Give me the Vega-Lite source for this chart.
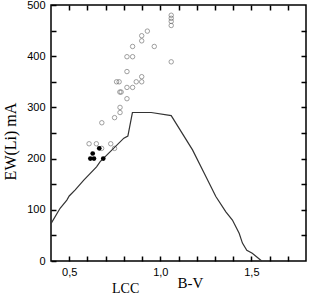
{
  "$schema": "https://vega.github.io/schema/vega-lite/v6.json",
  "width": 255,
  "height": 256,
  "autosize": "none",
  "padding": {"left": 51, "top": 5, "right": 5, "bottom": 34},
  "background": "white",
  "config": {
    "view": {"stroke": "black", "strokeWidth": 1.5},
    "axis": {
      "grid": false,
      "domain": false,
      "ticks": true,
      "zindex": 1,
      "offset": -5,
      "tickColor": "black",
      "tickOpacity": 1,
      "tickSize": 5,
      "tickWidth": 1.5,
      "labelFont": "Liberation Sans",
      "labelFontSize": 11,
      "labelColor": "black",
      "titleFont": "Liberation Serif",
      "titleFontWeight": "normal",
      "titleColor": "black"
    }
  },
  "title": {
    "text": "LCC",
    "orient": "bottom",
    "anchor": "start",
    "frame": "group",
    "font": "Liberation Serif",
    "fontSize": 14,
    "fontWeight": "normal",
    "color": "black",
    "dx": 61,
    "offset": -8
  },
  "datasets": {
    "open": [
      {"bv": 1.06, "ew": 480}, {"bv": 1.06, "ew": 474}, {"bv": 1.06, "ew": 468}, {"bv": 1.06, "ew": 460},
      {"bv": 0.929, "ew": 449}, {"bv": 0.898, "ew": 440}, {"bv": 0.898, "ew": 430},
      {"bv": 0.848, "ew": 419}, {"bv": 0.967, "ew": 419},
      {"bv": 0.817, "ew": 399}, {"bv": 0.848, "ew": 399},
      {"bv": 1.06, "ew": 389},
      {"bv": 0.817, "ew": 370},
      {"bv": 0.898, "ew": 360},
      {"bv": 0.76, "ew": 350}, {"bv": 0.774, "ew": 350}, {"bv": 0.868, "ew": 350}, {"bv": 0.898, "ew": 350},
      {"bv": 0.817, "ew": 339}, {"bv": 0.848, "ew": 339},
      {"bv": 0.778, "ew": 330}, {"bv": 0.785, "ew": 330},
      {"bv": 0.817, "ew": 317},
      {"bv": 0.779, "ew": 300}, {"bv": 0.779, "ew": 290},
      {"bv": 0.749, "ew": 280},
      {"bv": 0.679, "ew": 270},
      {"bv": 0.609, "ew": 229}, {"bv": 0.649, "ew": 229}, {"bv": 0.728, "ew": 229},
      {"bv": 0.678, "ew": 220}, {"bv": 0.749, "ew": 220}
    ],
    "filled": [
      {"bv": 0.665, "ew": 220},
      {"bv": 0.629, "ew": 210},
      {"bv": 0.616, "ew": 200}, {"bv": 0.636, "ew": 200},
      {"bv": 0.687, "ew": 200}
    ],
    "curve": [
      {"bv": 0.40, "ew": 73}, {"bv": 0.45, "ew": 103}, {"bv": 0.487, "ew": 119},
      {"bv": 0.50, "ew": 127}, {"bv": 0.533, "ew": 139}, {"bv": 0.58, "ew": 158},
      {"bv": 0.65, "ew": 184}, {"bv": 0.67, "ew": 194}, {"bv": 0.724, "ew": 213},
      {"bv": 0.80, "ew": 240}, {"bv": 0.822, "ew": 244}, {"bv": 0.847, "ew": 290},
      {"bv": 0.95, "ew": 290}, {"bv": 1.06, "ew": 284}, {"bv": 1.177, "ew": 217},
      {"bv": 1.242, "ew": 171}, {"bv": 1.305, "ew": 126}, {"bv": 1.36, "ew": 96},
      {"bv": 1.396, "ew": 80}, {"bv": 1.433, "ew": 54}, {"bv": 1.451, "ew": 35},
      {"bv": 1.475, "ew": 21}, {"bv": 1.505, "ew": 15}, {"bv": 1.557, "ew": 0}
    ]
  },
  "layer": [
    {
      "data": {"name": "open"},
      "mark": {"type": "point", "shape": "circle", "filled": false, "size": 20, "stroke": "#555555", "strokeWidth": 0.8},
      "encoding": {
        "x": {
          "field": "bv", "type": "quantitative",
          "scale": {"domain": [0.4, 1.8], "nice": false, "zero": false},
          "axis": {
            "orient": "bottom",
            "values": [0.5, 0.6, 0.7, 0.8, 0.9, 1.0, 1.1, 1.2, 1.3, 1.4, 1.5, 1.6, 1.7],
            "labelExpr": "datum.value == 0.5 ? '0,5' : datum.value == 1 ? '1,0' : datum.value == 1.5 ? '1,5' : ''",
            "labelPadding": 5,
            "ticks": true,
            "tickSize": 5,
            "title": "B-V",
            "titleFontSize": 15,
            "titleBaseline": "alphabetic",
            "titleX": 139,
            "titleY": 31
          }
        },
        "y": {
          "field": "ew", "type": "quantitative",
          "scale": {"domain": [0, 500], "nice": false},
          "axis": {
            "orient": "left",
            "values": [0, 50, 100, 150, 200, 250, 300, 350, 400, 450, 500],
            "labelExpr": "datum.value % 100 == 0 ? datum.label : ''",
            "labelPadding": 6,
            "ticks": true,
            "tickSize": 5,
            "title": "EW(Li) mA",
            "titleFontSize": 16,
            "titleBaseline": "alphabetic",
            "titleAlign": "center",
            "titleX": -41,
            "titleY": 136
          }
        }
      }
    },
    {
      "data": {"name": "curve"},
      "mark": {"type": "line", "stroke": "#333333", "strokeWidth": 1.2},
      "encoding": {
        "x": {
          "field": "bv", "type": "quantitative",
          "axis": {
            "orient": "top",
            "values": [0.5, 0.6, 0.7, 0.8, 0.9, 1.0, 1.1, 1.2, 1.3, 1.4, 1.5, 1.6, 1.7],
            "labels": false,
            "ticks": true,
            "tickSize": 5,
            "title": null
          }
        },
        "y": {
          "field": "ew", "type": "quantitative",
          "axis": {
            "orient": "right",
            "values": [50, 100, 150, 200, 250, 300, 350, 400, 450],
            "labels": false,
            "ticks": true,
            "tickSize": 5,
            "title": null
          }
        }
      }
    },
    {
      "data": {"name": "filled"},
      "mark": {"type": "point", "shape": "circle", "filled": true, "size": 22, "fill": "black", "opacity": 1},
      "encoding": {
        "x": {"field": "bv", "type": "quantitative", "axis": null},
        "y": {"field": "ew", "type": "quantitative", "axis": null}
      }
    }
  ],
  "resolve": {"axis": {"x": "independent", "y": "independent"}}
}
